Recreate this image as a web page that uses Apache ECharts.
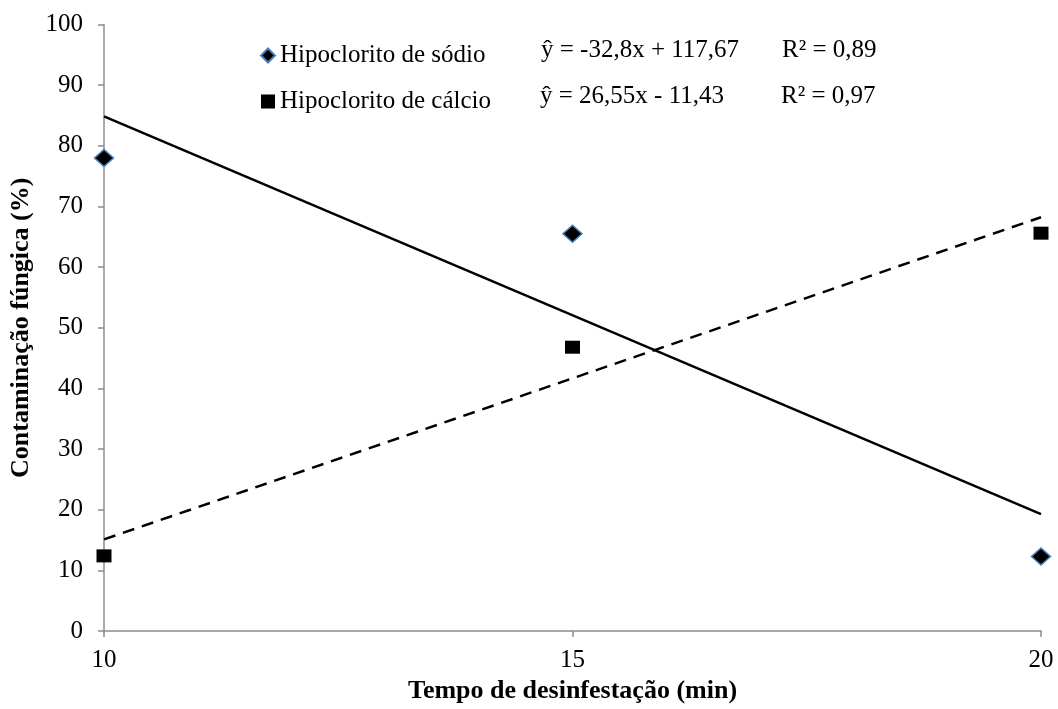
<!DOCTYPE html>
<html>
<head>
<meta charset="utf-8">
<script src="https://cdn.jsdelivr.net/npm/echarts@6/dist/echarts.min.js"></script>
<style>
html,body{margin:0;padding:0;background:#fff;}
#chart{width:1058px;height:709px;}
</style>
</head>
<body>
<div id="chart"></div>
<script>
// Data
const tempos = [10, 15, 20];
const sodio = [78, 65.5, 12.3];
const calcio = [12.4, 46.8, 65.6];
// Regression lines (from the chart's equations, at x = 10 and x = 20)
const trendX = [10, 20];
const trendSodio = [84.87, 19.27];
const trendCalcio = [15.12, 68.22];
const yTicks = [0, 10, 20, 30, 40, 50, 60, 70, 80, 90, 100];
const seriesNames = ['Hipoclorito de sódio', 'Hipoclorito de cálcio'];
const equations = ['ŷ = -32,8x + 117,67', 'ŷ = 26,55x - 11,43'];
const r2 = ['R² = 0,89', 'R² = 0,97'];

const font = '"Liberation Serif", "Times New Roman", serif';
const axisColor = '#8c8c8c';
const fs = 25;

const chart = echarts.init(document.getElementById('chart'));
chart.setOption({
  animation: false,
  backgroundColor: '#fff',
  textStyle: { fontFamily: font, color: '#000' },
  grid: { left: 102, right: 17, top: 24.5, bottom: 72 },
  xAxis: {
    type: 'value', min: 10, max: 20, interval: 5,
    name: 'Tempo de desinfestação (min)', nameLocation: 'middle', nameGap: 40,
    nameTextStyle: { fontFamily: font, fontWeight: 'bold', fontSize: 26, color: '#000' },
    axisLine: { lineStyle: { color: axisColor, width: 1.5 } },
    axisTick: { show: true, length: 6, lineStyle: { color: axisColor, width: 1.5 } },
    axisLabel: { fontFamily: font, fontSize: fs, color: '#000', margin: 17 },
    splitLine: { show: false }
  },
  yAxis: {
    type: 'value', min: yTicks[0], max: yTicks[yTicks.length - 1], interval: 10,
    name: 'Contaminação fúngica (%)', nameLocation: 'middle', nameGap: 70,
    nameTextStyle: { fontFamily: font, fontWeight: 'bold', fontSize: 26, color: '#000' },
    axisLine: { show: true, lineStyle: { color: axisColor, width: 1.5 } },
    axisTick: { show: true, length: 6, lineStyle: { color: axisColor, width: 1.5 } },
    axisLabel: { fontFamily: font, fontSize: fs, color: '#000', margin: 21 },
    splitLine: { show: false }
  },
  legend: {
    orient: 'vertical', left: 255, top: 38, itemGap: 21,
    itemWidth: 14, itemHeight: 14,
    textStyle: { fontFamily: font, fontSize: fs, color: '#000' },
    data: [
      { name: seriesNames[0], icon: 'diamond' },
      { name: seriesNames[1], icon: 'rect' }
    ]
  },
  graphic: [
    { type: 'text', left: 541, top: 38, style: { text: equations[0], font: fs + 'px ' + font, fill: '#000' } },
    { type: 'text', left: 782, top: 38, style: { text: r2[0], font: fs + 'px ' + font, fill: '#000' } },
    { type: 'text', left: 540, top: 84, style: { text: equations[1], font: fs + 'px ' + font, fill: '#000' } },
    { type: 'text', left: 781, top: 84, style: { text: r2[1], font: fs + 'px ' + font, fill: '#000' } }
  ],
  series: [
    {
      name: 'trend-sodio', type: 'line', showSymbol: false, silent: true,
      data: trendX.map((x, i) => [x, trendSodio[i]]),
      lineStyle: { color: '#000', width: 2.5 }, z: 2
    },
    {
      name: 'trend-calcio', type: 'line', showSymbol: false, silent: true,
      data: trendX.map((x, i) => [x, trendCalcio[i]]),
      lineStyle: { color: '#000', width: 2.5, type: [12, 8] }, z: 2
    },
    {
      name: seriesNames[0], type: 'scatter', symbol: 'diamond', symbolSize: [19, 17],
      data: tempos.map((x, i) => [x, sodio[i]]),
      itemStyle: { color: '#000', borderColor: '#4a7ebb', borderWidth: 1.5, opacity: 1 }, z: 3
    },
    {
      name: seriesNames[1], type: 'scatter', symbol: 'rect', symbolSize: [15, 13],
      data: tempos.map((x, i) => [x, calcio[i]]),
      itemStyle: { color: '#000', opacity: 1 }, z: 3
    }
  ]
});
</script>
</body>
</html>
